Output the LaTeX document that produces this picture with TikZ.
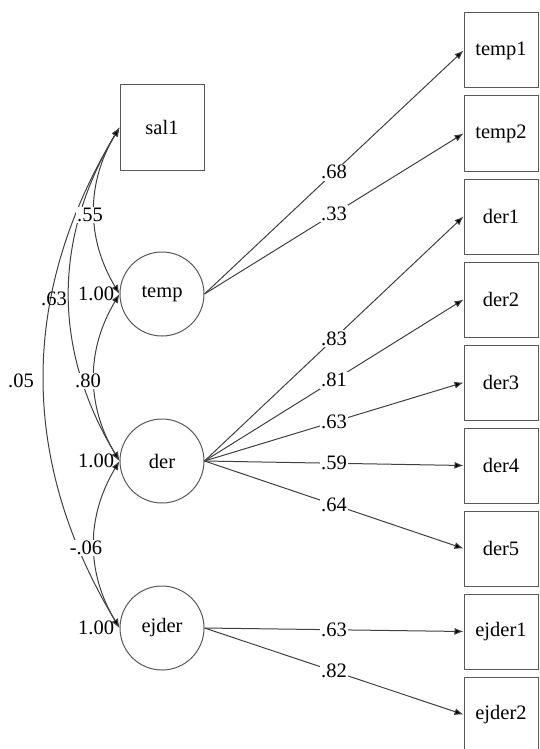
\documentclass[tikz,border=0pt]{standalone}
\usepackage{fontspec}
\setmainfont{Liberation Serif}
\usetikzlibrary{arrows.meta}
\usetikzlibrary{positioning}
\tikzstyle{base}=[x=1pt, y=-1pt, line width=1pt]
\tikzstyle{obs}=[draw=black!65, minimum width=74pt, minimum height=75pt, inner sep=0pt]
\tikzstyle{lat}=[draw=black!65, circle, minimum size=84pt, inner sep=0pt]
\tikzstyle{load}=[draw=black!75, -{Latex[length=9pt,width=7pt,fill=black]}]
\tikzstyle{cov}=[draw=black!75, {Latex[length=9pt,width=7pt,fill=black]}-{Latex[length=9pt,width=7pt,fill=black]}]
\tikzstyle{coef}=[fill=white, inner sep=1.5pt]

\begin{document}
\begin{tikzpicture}[base]
    \fontsize{20.5}{24}\selectfont
    \path [use as bounding box] (0,0) rectangle (539,749);
    % left side
    \node [obs, minimum width=84pt, minimum height=85pt] (sal1) at (162,127.5) {sal1};
    \node [lat] (temp) at (162,294) {temp};
    \node [lat] (der) at (162,461) {der};
    \node [lat] (ejder) at (162,628) {ejder};
    % indicators
    \foreach \n/\y in {temp1/50.5, temp2/133.5, der1/216.5, der2/299.5, der3/382.5,
                       der4/465.5, der5/548.5, ejder1/631.5, ejder2/714.5}
        \node [obs] (\n) at (501,\y) {\n};
    \foreach \f/\n/\v in {temp/temp1/.68, temp/temp2/.33, der/der1/.83, der/der2/.81,
                          der/der3/.63, der/der4/.59, der/der5/.64, ejder/ejder1/.63, ejder/ejder2/.82}
        \draw [load] (\f.east) -- node [coef] {\v} (\n.west);
    % covariances
    \draw [cov] (sal1.west) to [bend right=31] (temp.west);
    \draw [cov] (sal1.west) to [bend right=31] (der.west);
    \draw [cov] (sal1.west) to [bend right=31] (ejder.west);
    \draw [cov] (temp.west) to [bend right=31] (der.west);
    \draw [cov] (der.west) to [bend right=31] (ejder.west);
    \node [coef] (c55) at (90,215) {.55};
    \node [inner sep=0pt] (c63) at (54,299) {.63};
    \node [coef] (c05) at (21,381) {.05};
    \node [coef] (c80) at (88,381) {.80};
    \node [coef] (c06) at (86,548) {-.06};
    \node [inner sep=0pt, left=5pt of temp] (vtemp) {1.00};
    \node [inner sep=0pt, left=5pt of der] (vder) {1.00};
    \node [inner sep=0pt, left=5pt of ejder] (vejder) {1.00};
\end{tikzpicture}
\end{document}
